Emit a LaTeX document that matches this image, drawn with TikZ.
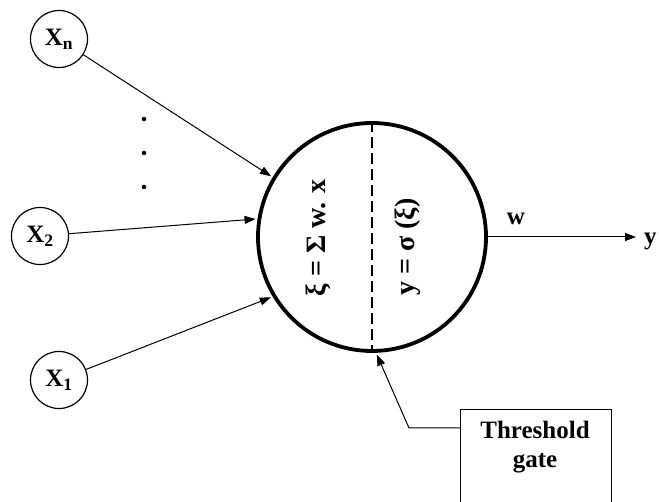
\documentclass[tikz,border=0pt]{standalone}
\usepackage{fontspec}
\setmainfont{Liberation Serif}
\usetikzlibrary{arrows.meta}
\tikzset{
  inp/.style={draw, circle, minimum size=57pt, inner sep=0pt, line width=1.2pt},
  neuron/.style={draw, circle, minimum size=228pt, inner sep=0pt, line width=3.8pt},
  conn/.style={line width=1pt, -{Triangle[length=11pt,width=8pt]}},
  dotnode/.style={circle, fill, inner sep=0pt, minimum size=4.5pt},
  lbl/.style={inner sep=0pt},
  big/.style={font=\bfseries\fontsize{28}{30}\selectfont},
}
\begin{document}
\begin{tikzpicture}[x=1pt,y=-1pt, font=\bfseries\fontsize{25}{29}\selectfont]
\useasboundingbox (0,0) rectangle (659,502);
\clip (0,0) rectangle (659,502);
\node[inp] (xn) at (59,39) {X\textsubscript{n}};
\node[inp] (x2) at (40,236) {X\textsubscript{2}};
\node[inp] (x1) at (59,380) {X\textsubscript{1}};
\node[dotnode] (d1) at (144,119) {};
\node[dotnode] (d2) at (144,153) {};
\node[dotnode] (d3) at (144,187) {};
\node[neuron] (neu) at (372,237) {};
\draw[line width=2.4pt, dash pattern=on 11pt off 5pt] (neu.north) -- (neu.south);
\node[lbl, big, rotate=90] (sum) at (318,238) {ξ = Σ w. x};
\node[lbl, big, rotate=90] (act) at (408,247) {y = σ (ξ)};
\draw[conn, shorten >=2pt] (xn) -- (neu.149);
\draw[conn, shorten >=2pt] (x2) -- (neu.171);
\draw[conn, shorten >=2pt] (x1) -- (neu.211);
\coordinate (yend) at (636,237);
\draw[conn] (neu.east) -- (yend);
\node[lbl] (w) at (516,219) {w};
\node[lbl, anchor=west] (y) at (644,241) {y};
\node[draw, line width=1pt, anchor=north west, minimum width=151pt, minimum height=110pt] (gate) at (460,409) {};
\node[align=center, lbl] (gatetext) at (535,447) {Threshold\\gate};
\coordinate (bend) at (409,428);
\draw[conn, shorten >=2pt] (gate.west |- bend) -- (bend) -- (neu.-88);
\end{tikzpicture}
\end{document}
